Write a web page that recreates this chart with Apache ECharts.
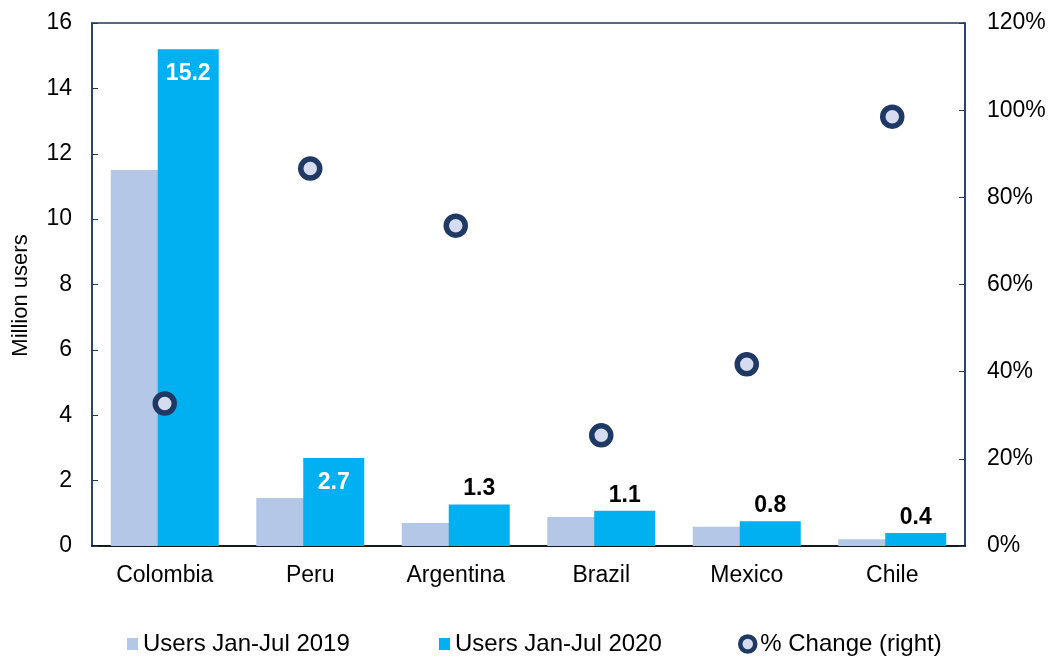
<!DOCTYPE html>
<html>
<head>
<meta charset="utf-8">
<script src="https://cdn.jsdelivr.net/npm/echarts@6/dist/echarts.min.js"></script>
<style>
  html, body { margin: 0; padding: 0; background: #fff; }
  #chart { width: 1051px; height: 657px; }
</style>
</head>
<body>
<div id="chart"></div>
<script>
// 数据
const countries = ['Colombia', 'Peru', 'Argentina', 'Brazil', 'Mexico', 'Chile']
const users2019 = [11.5, 1.47, 0.70, 0.89, 0.59, 0.21]
const users2020 = [15.2, 2.69, 1.27, 1.08, 0.76, 0.40]
const pctChange = [32.7, 86.6, 73.5, 25.4, 41.7, 98.5]
const leftTicks = [0, 16, 2]
const rightTicks = [0, 120, 20]

const FONT = 'Liberation Sans, Arial, sans-serif'
const NAVY = '#1F3864'

let chart = echarts.init(document.getElementById('chart'))

// 柱子标签：大柱子白字在内，小柱子黑字在上
let label2020 = users2020.map(function (v) {
  let inside = v > 2
  return {
    value: v,
    label: {
      show: true,
      position: inside ? 'insideTop' : 'top',
      distance: inside ? 13 : 4,
      color: inside ? '#fff' : '#000',
      fontWeight: 'bold',
      fontSize: 23,
      fontFamily: FONT,
      formatter: function (p) { return p.value.toFixed(1) }
    }
  }
})

chart.setOption({
  animation: false,
  textStyle: { fontFamily: FONT },
  grid: {
    left: 92,
    right: 86,
    top: 23,
    bottom: 111,
    show: true,
    borderColor: NAVY,
    borderWidth: 1.5
  },
  legend: [{
    data: ['Users Jan-Jul 2019'],
    left: 122,
    top: 627,
    itemWidth: 11,
    itemHeight: 12,
    icon: 'rect',
    textStyle: { fontSize: 24, color: '#000', fontFamily: FONT }
  }, {
    data: ['Users Jan-Jul 2020'],
    left: 434,
    top: 627,
    itemWidth: 11,
    itemHeight: 12,
    icon: 'rect',
    textStyle: { fontSize: 24, color: '#000', fontFamily: FONT }
  }, {
    data: ['% Change (right)'],
    left: 733,
    top: 627,
    itemWidth: 15,
    itemHeight: 15,
    icon: 'circle',
    itemStyle: { color: '#D6DCF0', borderColor: NAVY, borderWidth: 4.5 },
    textStyle: { fontSize: 24, color: '#000', fontFamily: FONT }
  }],
  xAxis: {
    type: 'category',
    data: countries,
    axisLine: { lineStyle: { color: '#000', width: 1.5 } },
    axisTick: { show: false },
    axisLabel: { fontSize: 23, color: '#000', margin: 18 }
  },
  yAxis: [{
    type: 'value',
    min: leftTicks[0],
    max: leftTicks[1],
    interval: leftTicks[2],
    name: 'Million users',
    nameLocation: 'middle',
    nameGap: 60,
    nameTextStyle: { fontSize: 22, color: '#000', padding: [0, 22, 0, 0] },
    axisLine: { show: true, lineStyle: { color: NAVY, width: 1.5 } },
    axisTick: { show: true, inside: true, length: 6, lineStyle: { color: NAVY } },
    axisLabel: { fontSize: 23, color: '#000', margin: 20 },
    splitLine: { show: false }
  }, {
    type: 'value',
    min: rightTicks[0],
    max: rightTicks[1],
    interval: rightTicks[2],
    position: 'right',
    axisLine: { show: true, lineStyle: { color: NAVY, width: 1.5 } },
    axisTick: { show: true, inside: true, length: 6, lineStyle: { color: NAVY } },
    axisLabel: { fontSize: 23, color: '#000', margin: 22, formatter: '{value}%' },
    splitLine: { show: false }
  }],
  series: [{
    name: 'Users Jan-Jul 2019',
    type: 'bar',
    data: users2019,
    barWidth: 61,
    barGap: '-23%',
    itemStyle: { color: '#B4C7E7' }
  }, {
    name: 'Users Jan-Jul 2020',
    type: 'bar',
    data: label2020,
    barWidth: 61,
    barGap: '-23%',
    itemStyle: { color: '#00B0F0' }
  }, {
    name: '% Change (right)',
    type: 'scatter',
    yAxisIndex: 1,
    data: pctChange,
    symbol: 'circle',
    symbolSize: 19,
    z: 5,
    itemStyle: { color: '#D6DCF0', borderColor: NAVY, borderWidth: 5.5, opacity: 1 }
  }]
})
</script>
</body>
</html>
